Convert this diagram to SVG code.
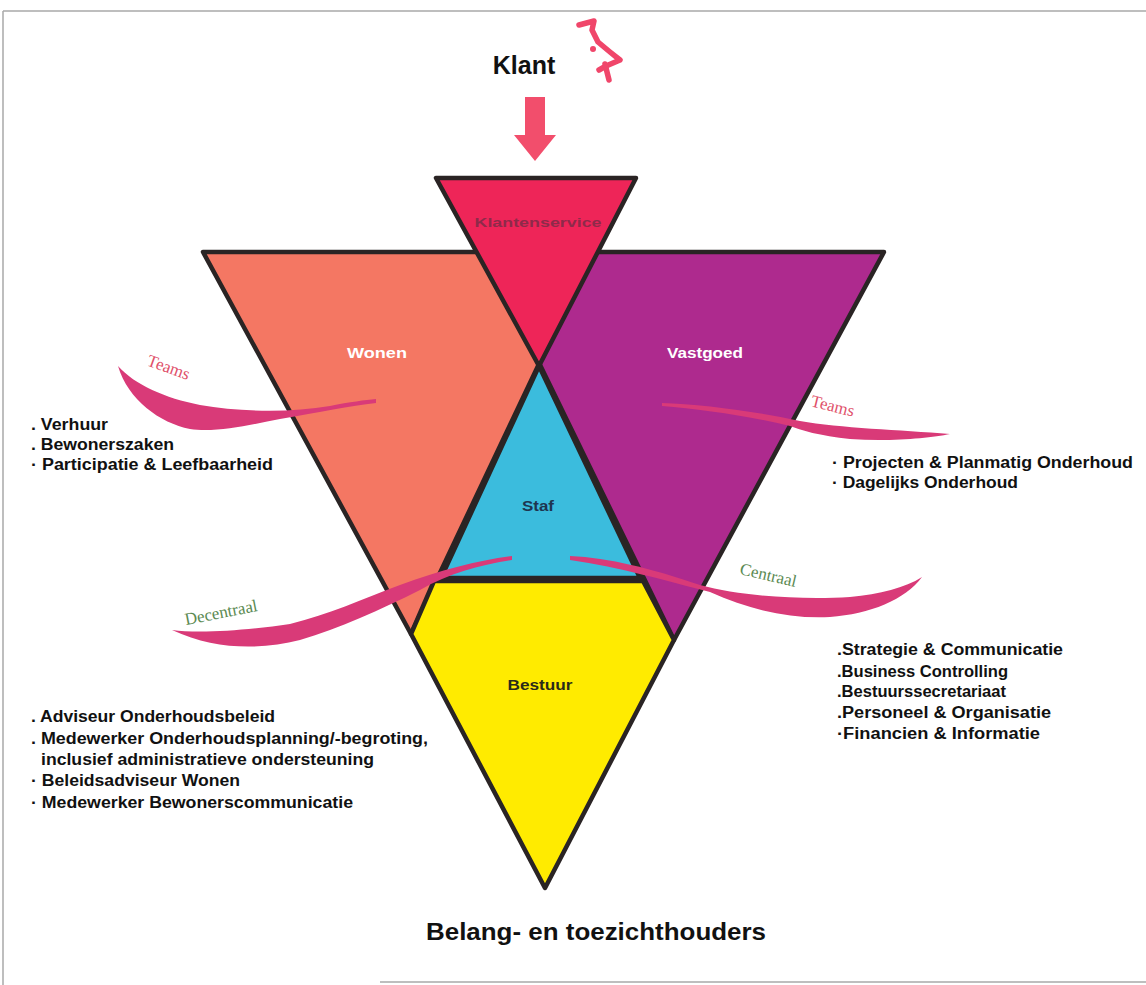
<svg xmlns="http://www.w3.org/2000/svg" width="1146" height="985" viewBox="0 0 1146 985">
<defs>
<style>
.shape{stroke:#2a2424;stroke-width:4.5;stroke-linejoin:round}
.list{font-family:"Liberation Sans",Arial,sans-serif;font-weight:bold;font-size:16px;fill:#111}
.inner{font-family:"Liberation Sans",Arial,sans-serif;font-weight:bold;text-anchor:middle}
.swoosh{fill:#D93A78}
.script{font-family:"Liberation Serif","Times New Roman",serif;font-size:17px}
.frame{stroke:#a8a8a8;stroke-width:1.5;fill:none}
</style>
</defs>
<rect x="0" y="0" width="1146" height="985" fill="#ffffff"/>
<g id="frame">
<line class="frame" x1="3" y1="11" x2="1146" y2="11"/>
<line class="frame" x1="3" y1="11" x2="3" y2="985"/>
<line class="frame" x1="380" y1="982" x2="1146" y2="982"/>
</g>
<g id="klant">
<text x="524" y="74" font-family="Liberation Sans, Arial, sans-serif" font-weight="bold" font-size="25" text-anchor="middle" fill="#111">Klant</text>
</g>
<g id="scribble" fill="none" stroke="#F0466A" stroke-width="5.5" stroke-linecap="round" stroke-linejoin="round">
<path d="M579 25 L594 21 L592 30 L598 42 L610 52 L620 60 L606 66 L599 70"/>
<path d="M605 64 L609 80"/>
<circle cx="593" cy="49" r="3" fill="#F0466A" stroke="none"/>
</g>
<g id="connectors">
<path d="M525 97 H545 V135 H556 L535 161 L514 135 H525 Z" fill="#F24E6C"/>
</g>
<g id="wonen">
<polygon class="shape" points="203,252 592,252 411,634" fill="#F47763"/>
<text class="inner" x="377" y="358" font-size="14" fill="#ffffff" textLength="60" lengthAdjust="spacingAndGlyphs">Wonen</text>
</g>
<g id="vastgoed">
<polygon class="shape" points="485,252 884,252 674,640" fill="#AE2A8E"/>
<text class="inner" x="705" y="358" font-size="14" fill="#ffffff" textLength="76" lengthAdjust="spacingAndGlyphs">Vastgoed</text>
</g>
<g id="klantenservice">
<polygon class="shape" points="436,178 636,178 539,366" fill="#EE2558"/>
<text class="inner" x="538" y="227" font-size="13" fill="#8E2A4A" textLength="127" lengthAdjust="spacingAndGlyphs">Klantenservice</text>
</g>
<g id="bestuur">
<polygon class="shape" points="434,581 643,581 674,640 545,888 411,634" fill="#FFEB00"/>
<text class="inner" x="540" y="690" font-size="14" fill="#2a2a1a" textLength="65" lengthAdjust="spacingAndGlyphs">Bestuur</text>
</g>
<g id="staf">
<polygon class="shape" points="539,366 640,578 441,578" fill="#3BBCDD"/>
<text class="inner" x="538" y="511" font-size="14" fill="#1E3550" textLength="32" lengthAdjust="spacingAndGlyphs">Staf</text>
</g>
<g id="teams-left">
<path class="swoosh" d="M118 366 C135 385 165 398 200 405 C240 412 290 413 330 406 C350 402 365 400 376 399 L376 403 C350 406 320 412 280 419 C250 425 215 433 190 429 C160 423 128 400 118 366 Z"/>
<text class="script" transform="translate(146,365) rotate(20)" fill="#E0506A">Teams</text>
</g>
<g id="teams-right">
<path class="swoosh" d="M662 403 C700 404 760 412 800 421 C840 428 900 430 950 434 C930 438 890 442 850 439 C820 436 800 430 790 426 C750 416 700 409 662 406 Z" fill="#D9507A"/>
<text class="script" transform="translate(810,406) rotate(14)" fill="#E0506A">Teams</text>
</g>
<g id="decentraal">
<path class="swoosh" d="M172 630 C200 634 250 630 290 624 C330 614 360 600 400 585 C440 570 480 560 512 556 L512 560 C480 565 450 573 420 590 C380 610 340 628 300 640 C260 650 215 650 172 630 Z" fill="#E2457A"/>
<text class="script" transform="translate(186,625) rotate(-11)" fill="#5B8A52">Decentraal</text>
</g>
<g id="centraal">
<path class="swoosh" d="M570 556 C610 558 650 568 700 585 C740 596 800 600 850 597 C880 594 905 588 922 577 C905 600 870 614 830 617 C790 619 750 610 710 592 C670 582 620 567 570 560 Z" fill="#E2457A"/>
<text class="script" transform="translate(739,574) rotate(13)" fill="#5B8A52">Centraal</text>
</g>
<g id="list-wonen">
<text class="list" x="31" y="430" textLength="77" lengthAdjust="spacingAndGlyphs">. Verhuur</text>
<text class="list" x="31" y="450" textLength="143" lengthAdjust="spacingAndGlyphs">. Bewonerszaken</text>
<text class="list" x="31" y="470" textLength="242" lengthAdjust="spacingAndGlyphs">· Participatie &amp; Leefbaarheid</text>
</g>
<g id="list-vastgoed">
<text class="list" x="832" y="468" textLength="301" lengthAdjust="spacingAndGlyphs">· Projecten &amp; Planmatig Onderhoud</text>
<text class="list" x="832" y="488" textLength="186" lengthAdjust="spacingAndGlyphs">· Dagelijks Onderhoud</text>
</g>
<g id="list-centraal">
<text class="list" x="837" y="655" textLength="226" lengthAdjust="spacingAndGlyphs">.Strategie &amp; Communicatie</text>
<text class="list" x="837" y="677" textLength="171" lengthAdjust="spacingAndGlyphs">.Business Controlling</text>
<text class="list" x="837" y="697" textLength="169" lengthAdjust="spacingAndGlyphs">.Bestuurssecretariaat</text>
<text class="list" x="837" y="718" textLength="214" lengthAdjust="spacingAndGlyphs">.Personeel &amp; Organisatie</text>
<text class="list" x="837" y="739" textLength="203" lengthAdjust="spacingAndGlyphs">·Financien &amp; Informatie</text>
</g>
<g id="list-decentraal">
<text class="list" x="31" y="722" textLength="244" lengthAdjust="spacingAndGlyphs">. Adviseur Onderhoudsbeleid</text>
<text class="list" x="31" y="744" textLength="397" lengthAdjust="spacingAndGlyphs">. Medewerker Onderhoudsplanning/-begroting,</text>
<text class="list" x="41" y="765" textLength="333" lengthAdjust="spacingAndGlyphs">inclusief administratieve ondersteuning</text>
<text class="list" x="31" y="786" textLength="209" lengthAdjust="spacingAndGlyphs">· Beleidsadviseur Wonen</text>
<text class="list" x="31" y="808" textLength="322" lengthAdjust="spacingAndGlyphs">· Medewerker Bewonerscommunicatie</text>
</g>
<g id="belanghouders">
<text x="596" y="940" font-family="Liberation Sans, Arial, sans-serif" font-weight="bold" font-size="23" text-anchor="middle" fill="#111" textLength="340" lengthAdjust="spacingAndGlyphs">Belang- en toezichthouders</text>
</g>
</svg>
